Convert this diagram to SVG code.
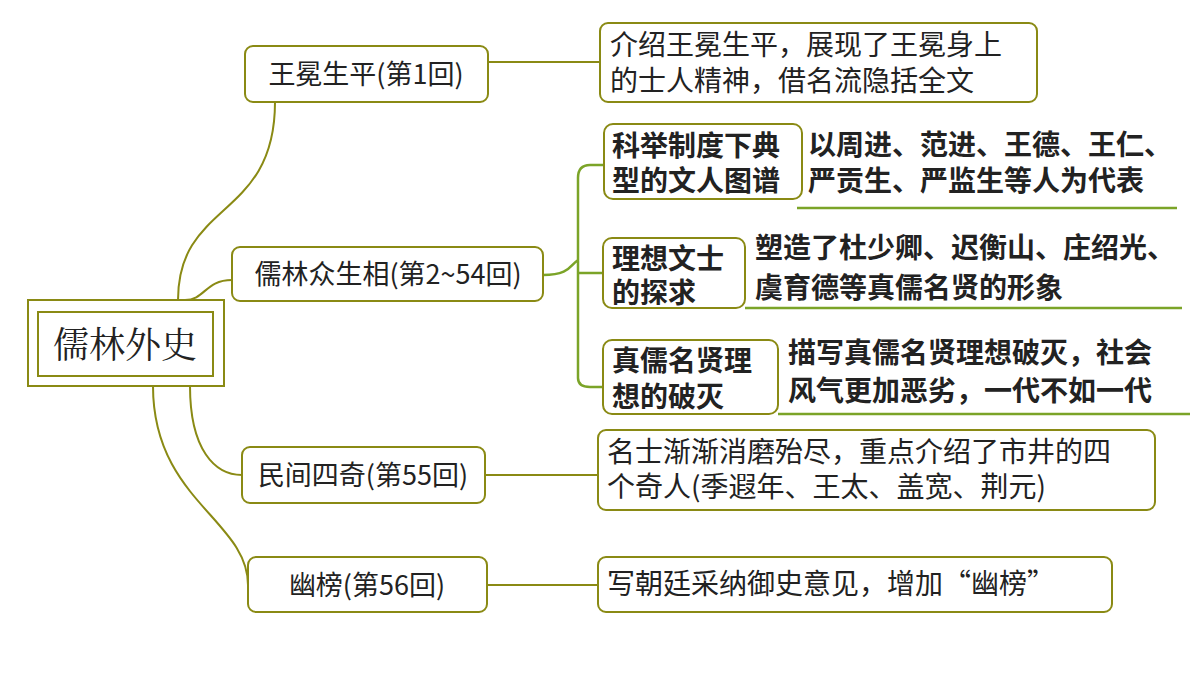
<svg xmlns="http://www.w3.org/2000/svg" width="1200" height="675" viewBox="0 0 1200 675">
<style>
text{font-family:"Noto Sans CJK SC","Noto Sans",sans-serif;fill:#222;font-size:28px}
.m{font-size:27px}
.n{fill:#fff;stroke:#8a8a14;stroke-width:2}
.s{fill:#fff;stroke:#8a8a14;stroke-width:2}
.b{font-weight:bold;font-size:28px}
.c{fill:none;stroke:#8a8a14;stroke-width:2}
.g{fill:none;stroke:#7ba428;stroke-width:2.5}
</style>
<rect width="1200" height="675" fill="#fff"/>
<g id="connectors">
<path class="c" d="M178,300 C178,200 275,220 275,102"/>
<path class="c" d="M185,300 C205,300 205,280 232,280"/>
<path class="c" d="M190,386 C190,450 215,475 242,475"/>
<path class="c" d="M153,386 C153,500 248,520 248,585"/>
<path class="c" d="M488,62 H600"/>
<path class="c" d="M485,475 H598"/>
<path class="c" d="M487,585 H598"/>
<path class="g" d="M543,275 C570,275 570,265 578,260 V178 Q578,165 590,165 H604 M578,260 V378 Q578,387 590,387 H603 M578,273 H603"/>
<path class="g" d="M797,208 H1177 M745,308 H1182 M778,414 H1190"/>
</g>
<g id="root">
<rect x="28" y="300" width="196" height="86" fill="#fff" stroke="#8a8a14" stroke-width="2"/>
<rect x="38" y="312" width="175" height="64" fill="#fff" stroke="#8a8a14" stroke-width="2"/>
<text x="125" y="358" text-anchor="middle" style="font-size:36px;font-family:'Noto Serif CJK SC','Noto Sans CJK SC',serif">儒林外史</text>
</g>
<g id="b1"><rect class="n" x="245" y="46" width="243" height="56" rx="8"/><text class="m" x="366" y="84" text-anchor="middle">王冕生平(第1回)</text></g>
<g id="b2"><rect class="n" x="232" y="247" width="311" height="54" rx="8"/><text class="m" x="388" y="284" text-anchor="middle">儒林众生相(第2~54回)</text></g>
<g id="b3"><rect class="n" x="242" y="447" width="243" height="56" rx="8"/><text class="m" x="363" y="485" text-anchor="middle">民间四奇(第55回)</text></g>
<g id="b4"><rect class="n" x="248" y="557" width="239" height="55" rx="8"/><text class="m" x="367" y="595" text-anchor="middle">幽榜(第56回)</text></g>
<g id="r1"><rect class="n" x="600" y="23" width="437" height="79" rx="8"/><text x="610" y="55">介绍王冕生平，展现了王冕身上</text><text x="610" y="91">的士人精神，借名流隐括全文</text></g>
<g id="r3"><rect class="n" x="598" y="430" width="557" height="80" rx="8"/><text x="607" y="462">名士渐渐消磨殆尽，重点介绍了市井的四</text><text x="607" y="497">个奇人(季遐年、王太、盖宽、荆元)</text></g>
<g id="r4"><rect class="n" x="598" y="557" width="514" height="55" rx="8"/><text x="607" y="594">写朝廷采纳御史意见，增加“幽榜”</text></g>
<g id="s1"><rect class="s" x="604" y="124" width="198" height="75" rx="9"/><text class="b" x="612" y="156">科举制度下典</text><text class="b" x="612" y="191">型的文人图谱</text>
<text class="b" x="808" y="155">以周进、范进、王德、王仁、</text><text class="b" x="808" y="191">严贡生、严监生等人为代表</text></g>
<g id="s2"><rect class="s" x="603" y="238" width="142" height="70" rx="9"/><text class="b" x="612" y="269">理想文士</text><text class="b" x="612" y="303">的探求</text>
<text class="b" x="755" y="258">塑造了杜少卿、迟衡山、庄绍光、</text><text class="b" x="755" y="298">虞育德等真儒名贤的形象</text></g>
<g id="s3"><rect class="s" x="603" y="340" width="175" height="74" rx="9"/><text class="b" x="612" y="371">真儒名贤理</text><text class="b" x="612" y="407">想的破灭</text>
<text class="b" x="788" y="363">描写真儒名贤理想破灭，社会</text><text class="b" x="788" y="401">风气更加恶劣，一代不如一代</text></g>
</svg>
